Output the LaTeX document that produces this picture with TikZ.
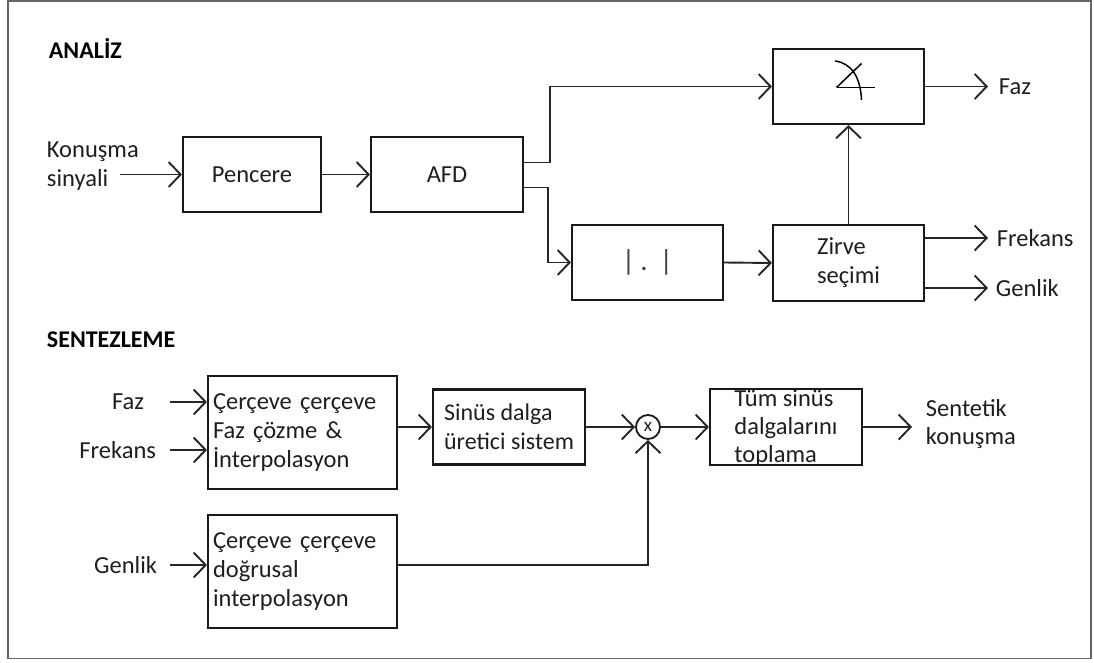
\documentclass[tikz,border=0pt]{standalone}
\usepackage{fontspec}
\setmainfont{Carlito}
\usetikzlibrary{arrows.meta}
\definecolor{txt}{HTML}{1E1E1E}
\begin{document}
\begin{tikzpicture}[x=1pt,y=-1pt, line width=1.9pt,
  every node/.style={font=\fontsize{24.5}{29}\selectfont, text=txt},
  blk/.style={draw=black!90, line width=2.1pt, rectangle, inner sep=0pt},
  arr/.style={-{Straight Barb[length=12pt,width=25pt,line width=1.9pt]}, draw=black!85},
  ttl/.style={font=\fontsize{24}{29}\selectfont\bfseries, text=black, anchor=west, inner sep=0pt},
  lbl/.style={inner sep=0pt}]
\useasboundingbox (0,0) rectangle (1094,663);
\draw[line width=1.4pt, black!60] (8,1) rectangle (1091,658.5);

% titles
\node[ttl] (analiz) at (48,48) {ANALİZ};
\node[ttl] (sentez) at (46,340) {SENTEZLEME};

% analysis blocks
\node[blk, minimum width=138pt, minimum height=75pt] (pencere) at (252,174.5) {Pencere};
\node[blk, minimum width=152pt, minimum height=75pt] (afd) at (447,174.5) {AFD};
\node[blk, minimum width=151pt, minimum height=75pt] (ang) at (848.5,86.5) {};
\node[blk, minimum width=151pt, minimum height=75pt, font=\fontsize{29}{29}\selectfont, text=black!75] (abs) at (647.5,262.5) {|\hspace{5pt}.\hspace{12pt}|};
\node[blk, minimum width=151pt, minimum height=76pt, align=left] (zirve) at (848.5,263) {Zirve\\seçimi};

\begin{scope}[shift={(ang.center)}, line width=1.5pt]
\draw (-12,1) -- (26.5,1);
\draw (-12,1) -- (13,-23);
\draw (-13.5,-25.5) .. controls (2.5,-23.5) and (12,-10) .. (13,13.5);
\end{scope}

\node[lbl, anchor=west, align=left] (konus) at (46,166.5) {Konuşma\\sinyali};
\coordinate (kin) at (120,174.5);
\draw[arr] (kin) -- (pencere.west);
\draw[arr] (pencere.east) -- (afd.west);
\draw[arr] ([yshift=12pt]afd.east) -- ++(26,0) |- (ang.west);
\draw[arr] ([yshift=-13pt]afd.east) -- ++(24,0) |- (abs.west);
\draw[arr] (abs.east) -- (zirve.west);
\draw[arr] (zirve.north) -- (ang.south);

\coordinate (fazo) at (988,86.5);
\draw[arr] (ang.east) -- (fazo);
\node[lbl, anchor=west] (fazt) at ([xshift=10pt]fazo) {Faz};
\coordinate (freo) at (988,238);
\draw[arr] (zirve.east |- freo) -- (freo);
\node[lbl, anchor=west] (fret) at ([xshift=8pt]freo) {Frekans};
\coordinate (geno) at (988,288);
\draw[arr] (zirve.east |- geno) -- (geno);
\node[lbl, anchor=west] (gent) at ([xshift=7pt]geno) {Genlik};

% synthesis blocks
\node[blk, minimum width=189pt, minimum height=113pt, text width=179pt, align=left] (cer1) at (302.5,432.5) {Çerçeve çerçeve\\Faz çözme \&\\İnterpolasyon};
\node[blk, minimum width=189pt, minimum height=113pt, text width=179pt, align=left] (cer2) at (302.5,571.5) {Çerçeve çerçeve\\doğrusal\\interpolasyon};
\node[blk, minimum width=152pt, minimum height=75pt, align=left, font=\fontsize{24}{29}\selectfont] (sinus) at (509,427) {Sinüs dalga\\üretici sistem};
\node[draw=black!90, circle, line width=1.8pt, minimum size=24pt, inner sep=0pt, font=\fontsize{19}{19}\selectfont] (mult) at (648,427) {x};
\node[blk, minimum width=152pt, minimum height=76pt] (tum) at (786,427) {};
\node[lbl, align=left, font=\fontsize{24.5}{28}\selectfont] (tumt) at (786,428) {Tüm sinüs\\dalgalarını\\toplama};

\node[lbl, anchor=east] (fazin) at (145,402) {Faz};
\coordinate (fazs) at (170,402);
\draw[arr] (fazs) -- (fazs -| cer1.west);
\node[lbl, anchor=east] (frin) at (157,450) {Frekans};
\coordinate (frs) at (170,450);
\draw[arr] (frs) -- (frs -| cer1.west);
\node[lbl, anchor=east] (genin) at (158,565) {Genlik};
\coordinate (gens) at (170,565);
\draw[arr] (gens) -- (gens -| cer2.west);

\draw[arr] (cer1.east |- sinus.west) -- (sinus.west);
\draw[arr] (sinus.east) -- (mult.west);
\draw[arr] (mult.east) -- (tum.west);
\draw[arr] ([yshift=6.5pt]cer2.east) -| (mult.south);
\coordinate (sento) at (912,427);
\draw[arr] (tum.east) -- (sento);
\node[lbl, anchor=west, align=left, font=\fontsize{24.5}{28}\selectfont] (sentt) at (925,424) {Sentetik\\konuşma};
\end{tikzpicture}
\end{document}
